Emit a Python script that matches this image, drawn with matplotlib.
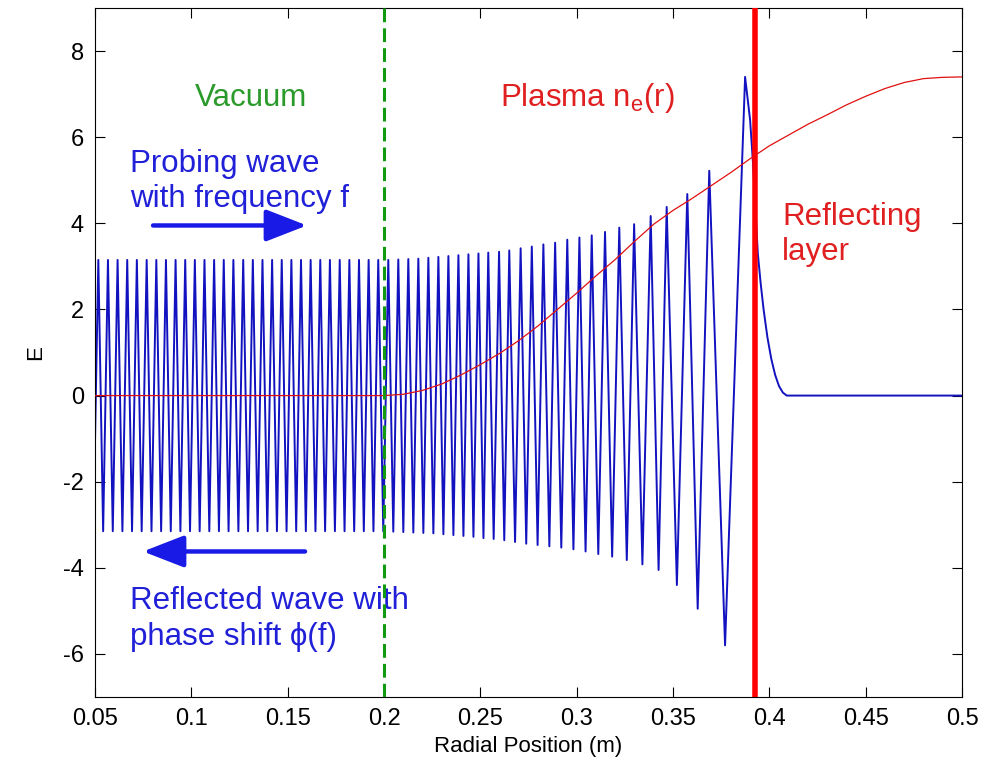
import matplotlib
matplotlib.use('Agg')
import matplotlib.pyplot as plt

plt.rcParams['font.family'] = ['Liberation Sans', 'DejaVu Sans']
plt.rcParams['axes.unicode_minus'] = False

# wave extrema (x in m, E)
peak_x = [0.0517, 0.0567, 0.0617, 0.0667, 0.0717, 0.0768, 0.0818, 0.0868, 0.0918, 0.0968,
          0.1018, 0.1068, 0.1118, 0.1168, 0.1218, 0.1269, 0.1319, 0.1369, 0.1419, 0.1469,
          0.1519, 0.1569, 0.1619, 0.1669, 0.1719, 0.1770, 0.1820, 0.1870, 0.1920, 0.1970,
          0.2022, 0.2074, 0.2126, 0.2178, 0.2230, 0.2282, 0.2334, 0.2386, 0.2438, 0.2490,
          0.2541, 0.2597, 0.2650, 0.2709, 0.2767, 0.2827, 0.2888, 0.2951, 0.3014, 0.3078,
          0.3147, 0.3221, 0.3298, 0.3384, 0.3467, 0.3574, 0.3688, 0.3874]
peak_y = [3.15, 3.15, 3.15, 3.15, 3.15, 3.15, 3.15, 3.15, 3.15, 3.15,
          3.15, 3.15, 3.15, 3.15, 3.15, 3.15, 3.15, 3.15, 3.15, 3.15,
          3.15, 3.15, 3.15, 3.15, 3.15, 3.15, 3.15, 3.15, 3.15, 3.15,
          3.15, 3.16, 3.17, 3.18, 3.20, 3.22, 3.24, 3.26, 3.28, 3.30,
          3.32, 3.34, 3.37, 3.42, 3.46, 3.51, 3.55, 3.62, 3.67, 3.72,
          3.80, 3.90, 3.98, 4.17, 4.38, 4.68, 5.22, 7.40]
trough_x = [0.0542, 0.0592, 0.0642, 0.0692, 0.0742, 0.0793, 0.0843, 0.0893, 0.0943, 0.0993,
            0.1043, 0.1093, 0.1143, 0.1193, 0.1244, 0.1294, 0.1344, 0.1394, 0.1444, 0.1494,
            0.1544, 0.1594, 0.1644, 0.1694, 0.1745, 0.1795, 0.1845, 0.1895, 0.1945, 0.1996,
            0.2048, 0.2100, 0.2152, 0.2204, 0.2256, 0.2308, 0.2360, 0.2412, 0.2464, 0.2516,
            0.2569, 0.2624, 0.2680, 0.2738, 0.2797, 0.2858, 0.2920, 0.2983, 0.3046, 0.3112,
            0.3184, 0.3260, 0.3341, 0.3425, 0.3520, 0.3628, 0.3770]
trough_y = [-3.15, -3.15, -3.15, -3.15, -3.15, -3.15, -3.15, -3.15, -3.15, -3.15,
            -3.15, -3.15, -3.15, -3.15, -3.15, -3.15, -3.15, -3.15, -3.15, -3.15,
            -3.15, -3.15, -3.15, -3.15, -3.15, -3.15, -3.15, -3.15, -3.15, -3.15,
            -3.16, -3.17, -3.18, -3.19, -3.20, -3.22, -3.24, -3.26, -3.28, -3.31,
            -3.33, -3.36, -3.40, -3.44, -3.47, -3.50, -3.53, -3.57, -3.62, -3.68,
            -3.74, -3.82, -3.92, -4.05, -4.40, -4.95, -5.80]
# start of the trace and the evanescent tail behind the reflecting layer
head_x = [0.0500]
head_y = [-1.0]
tail_x = [0.3900, 0.3915, 0.3940, 0.3955, 0.3970, 0.3990, 0.4010, 0.4030, 0.4050, 0.4070, 0.4090, 0.5000]
tail_y = [6.40, 5.40, 3.30, 2.60, 2.00, 1.35, 0.85, 0.48, 0.22, 0.07, 0.00, 0.00]

# density profile n_e(r)
ne_x = [0.05, 0.20, 0.21, 0.22, 0.23, 0.24, 0.25, 0.26, 0.27, 0.28, 0.29, 0.30, 0.31, 0.32,
        0.33, 0.34, 0.35, 0.36, 0.37, 0.38, 0.39, 0.40, 0.41, 0.42, 0.43, 0.44, 0.45, 0.46,
        0.47, 0.48, 0.49, 0.50]
ne_y = [0.0, 0.0, 0.03, 0.12, 0.27, 0.48, 0.72, 0.98, 1.28, 1.62, 2.0, 2.38, 2.78, 3.16,
        3.58, 3.98, 4.30, 4.58, 4.88, 5.18, 5.50, 5.80, 6.05, 6.30, 6.52, 6.75, 6.95, 7.13,
        7.27, 7.36, 7.39, 7.40]

vacuum_edge = 0.2
reflect_r = 0.3926

xticks = [0.05, 0.1, 0.15, 0.2, 0.25, 0.3, 0.35, 0.4, 0.45, 0.5]
xtick_labels = ['0.05', '0.1', '0.15', '0.2', '0.25', '0.3', '0.35', '0.4', '0.45', '0.5']
yticks = [-6, -4, -2, 0, 2, 4, 6, 8]

# merge extrema into one trace
pts = sorted(zip(peak_x + trough_x, peak_y + trough_y))
wave_x = head_x + [p[0] for p in pts] + tail_x
wave_y = head_y + [p[1] for p in pts] + tail_y

fig = plt.figure(figsize=(9.87, 7.69), dpi=100)
ax = fig.add_axes([0.0963, 0.0936, 0.8784, 0.896])

ax.plot(wave_x, wave_y, color='#1212c0', lw=1.4, zorder=2)
ax.plot(ne_x, ne_y, color='#e01010', lw=0.9, zorder=3)
ax.axvline(vacuum_edge, color='#119911', lw=2.2, dashes=(4.5, 2), zorder=4)
ax.axvline(reflect_r, color='#ff0000', lw=4, zorder=5)

blue = '#2020d8'
red = '#e02020'
ax.text(0.1019, 6.9, 'Vacuum', color='#2a9a2a', fontsize=22.5, va='center')
ax.text(0.2602, 6.9, 'Plasma n$_\\mathregular{e}$(r)', color=red, fontsize=22.5, va='center')
ax.text(0.0682, 4.97, 'Probing wave\nwith frequency f', color=blue, fontsize=22.5, va='center',
        linespacing=1.22)
ax.text(0.0682, -5.19, 'Reflected wave with\nphase shift \u03d5(f)', color=blue, fontsize=22.5, va='center',
        linespacing=1.26)
ax.text(0.4066, 3.75, 'Reflecting\nlayer', color=red, fontsize=22.5, va='center', linespacing=1.22)

ax.annotate('', xy=(0.160, 3.95), xytext=(0.0801, 3.95),
            arrowprops=dict(arrowstyle='-|>,head_length=0.9,head_width=0.35', color='#1a1ae6',
                            lw=3.2, mutation_scale=28, shrinkA=0, shrinkB=0))
ax.annotate('', xy=(0.0749, -3.62), xytext=(0.159, -3.62),
            arrowprops=dict(arrowstyle='-|>,head_length=0.9,head_width=0.35', color='#1a1ae6',
                            lw=3.2, mutation_scale=28, shrinkA=0, shrinkB=0))

ax.set_xlim(0.05, 0.5)
ax.set_ylim(-7, 9)
ax.set_xticks(xticks)
ax.set_xticklabels(xtick_labels)
ax.set_yticks(yticks)
ax.tick_params(direction='in', top=True, right=True, length=7, labelsize=17, pad=8)
ax.set_xlabel('Radial Position (m)', fontsize=16, labelpad=4)
ax.set_ylabel('E', fontsize=16, labelpad=12)

fig.savefig('out.png', dpi=100)
